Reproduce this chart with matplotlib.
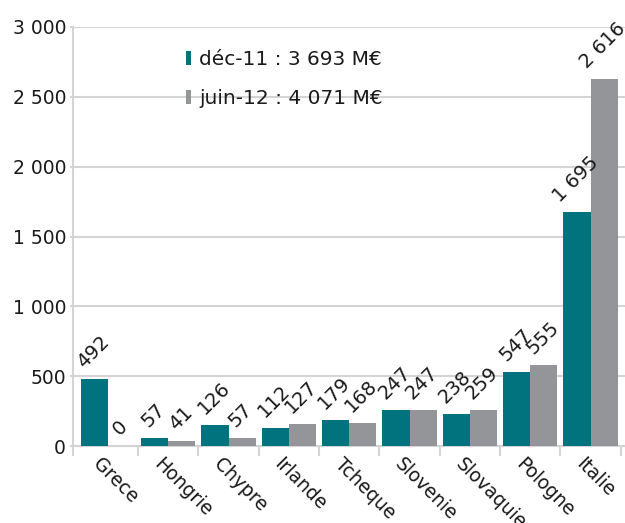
import matplotlib
matplotlib.use("Agg")
import matplotlib.pyplot as plt
import matplotlib.transforms as mtransforms
from matplotlib.patches import Patch, Rectangle
import numpy as np

# data (bar heights as drawn, labels as printed)
pays = ["Grece", "Hongrie", "Chypre", "Irlande", "Tcheque",
        "Slovenie", "Slovaquie", "Pologne", "Italie"]
dec11 = [478, 60, 150, 128, 185, 256, 228, 533, 1672]
jun12 = [0, 38, 57, 156, 164, 256, 256, 583, 2630]
dec11_labels = ["492", "57", "126", "112", "179", "247", "238", "547", "1 695"]
jun12_labels = ["0", "41", "57", "127", "168", "247", "259", "555", "2 616"]
legend_labels = ["déc-11 : 3 693 M€", "juin-12 : 4 071 M€"]
yticks = [0, 500, 1000, 1500, 2000, 2500, 3000]

teal = "#00737f"
grey = "#939598"
axis_grey = "#d4d4d4"
txt = "#1a1a1a"

plt.rcParams["font.family"] = ["DejaVu Sans"]

fig = plt.figure(figsize=(6.25, 5.23), dpi=100)
ax = fig.add_axes([73 / 625, 1 - 446 / 523, 552 / 625, 419 / 523])

x = np.arange(len(pays))
w = 0.45
b1 = ax.bar(x - w / 2, dec11, w, color=teal, zorder=3)
b2 = ax.bar(x + w / 2, jun12, w, color=grey, zorder=3)

for bars, labs in [(b1, dec11_labels), (b2, jun12_labels)]:
    for rect, lab in zip(bars, labs):
        ax.annotate(lab, (rect.get_x() + rect.get_width() / 2, rect.get_height()),
                    xytext=(-1, 5), textcoords="offset points",
                    ha="center", va="bottom", rotation=45,
                    fontsize=14, color=txt, zorder=4)

ax.set_xlim(-0.58, 8.57)
ax.set_ylim(0, 3000)
ax.set_yticks(yticks)
ax.set_yticklabels([f"{v:,}".replace(",", " ") for v in yticks],
                   fontsize=13.5, color=txt)
ax.yaxis.grid(True, color=axis_grey, linewidth=1.5, zorder=0)
ax.tick_params(axis="y", length=2, width=1.5, color=axis_grey, pad=3)

ax.set_xticks(x)
ax.set_xticklabels(pays, rotation=-45, ha="left", va="top",
                   rotation_mode="anchor", fontsize=13.5, color=txt)
ax.tick_params(axis="x", which="major", length=0, pad=6)
shift = mtransforms.ScaledTranslation(-5 / 100, 0, fig.dpi_scale_trans)
for lbl in ax.get_xticklabels():
    lbl.set_transform(lbl.get_transform() + shift)
ax.set_xticks(list(x + 0.5) + [-0.58], minor=True)
ax.tick_params(axis="x", which="minor", length=7, width=1.5, color=axis_grey)

for s in ["top", "right"]:
    ax.spines[s].set_visible(False)
for s in ["left", "bottom"]:
    ax.spines[s].set_color(axis_grey)
    ax.spines[s].set_linewidth(1.5)

# white block behind the legend, hides part of the 2 500 gridline
ax.add_patch(Rectangle((0.085, 0.79), 0.62, 0.095, transform=ax.transAxes,
                       facecolor="white", edgecolor="none", zorder=1))

handles = [Patch(facecolor=teal), Patch(facecolor=grey)]
fig.legend(handles, legend_labels, loc="upper left",
           bbox_to_anchor=(186 / 625, 1 - 50 / 523), frameon=False,
           fontsize=14.5, handlelength=0.26, handleheight=0.7,
           handletextpad=0.4, labelspacing=0.98,
           borderpad=0, borderaxespad=0, labelcolor=txt)

fig.savefig("out.png", dpi=100)
